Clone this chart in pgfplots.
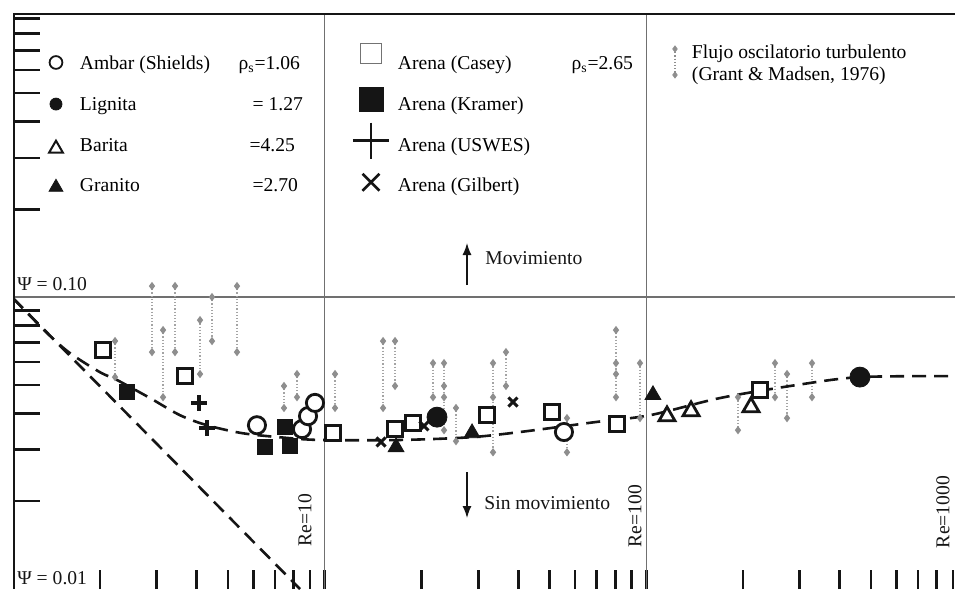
\documentclass[border=0pt]{standalone}
\usepackage{fontspec}
\setmainfont{Liberation Serif}
\usepackage{pgfplots}
\pgfplotsset{compat=1.18}
\usetikzlibrary{arrows.meta}
\definecolor{ink}{HTML}{151515}
\definecolor{rule}{HTML}{707070}
\definecolor{gm}{HTML}{8E8E8E}

% one legend symbol: vertical offset, then the mark options
\pgfplotsset{
  limg/.style 2 args={legend image code/.code={%
    \path[draw=none, fill=none] (0pt,-5pt) rectangle (20pt,5pt);
    \draw[overlay,#2] plot coordinates {(10pt,#1)};}},
}

\begin{document}
\begin{tikzpicture}[font=\fontsize{9.8}{11.8}\selectfont]
\begin{axis}[
  xmode=log, ymode=log,
  scale only axis, width=471pt, height=288pt,
  xmin=1.072, xmax=912.6, ymin=0.01, ymax=0.94,
  axis line style={draw=none},
  xtick={2,3,4,5,6,7,8,9,10,20,30,40,50,60,70,80,90,100,200,300,400,500,600,700,800,900},
  ytick={0.02,0.03,0.04,0.05,0.06,0.07,0.08,0.09,0.1,0.2,0.3,0.4,0.5,0.6,0.7,0.8,0.9},
  xticklabels={}, yticklabels={},
  xtick pos=left, ytick pos=left, tick align=inside,
  xminorticks=false, yminorticks=false,
  every major x tick/.append style={line width=1.4pt, ink, /pgfplots/major tick length=9.5pt},
  every major y tick/.append style={line width=1.3pt, ink, /pgfplots/major tick length=13.5pt},
  legend columns=3,
  legend cell align=left,
  legend style={draw=none, fill=none, inner sep=0pt, outer sep=0pt,
    at={(0.0244,0.9254)}, anchor=north west,
    row sep=10.3pt, column sep=0pt,
    font=\fontsize{9.8}{11.8}\selectfont,
    nodes={inner sep=0pt, outer sep=0pt, text height=7pt, text depth=3pt}},
]

% legend, row by row
\addlegendimage{limg={1.75pt}{mark=*, mark size=3.2pt, line width=0.9pt, mark options={fill=white, draw=ink}}}
\addlegendentry{\makebox[137.5pt][l]{\hspace*{2pt}\makebox[110pt][l]{Ambar (Shields)\hfill ρ\textsubscript{s}=1.06}}}
\addlegendimage{limg={6.25pt}{mark=square*, mark size=5.2pt, line width=0.5pt, mark options={fill=white, draw=black!55}}}
\addlegendentry{\makebox[137pt][l]{\hspace*{3.5pt}\makebox[117.5pt][l]{Arena (Casey)\hfill ρ\textsubscript{s}=2.65}}}
\addlegendimage{legend image code/.code={%
    \path[draw=none, fill=none] (0pt,-5pt) rectangle (10pt,5pt);
    \draw[overlay,gm,densely dotted,line width=0.6pt] (5pt,8.5pt) -- (5pt,-4.5pt);
    \draw[overlay] plot[only marks, mark=diamond*, mark size=1.5pt, mark options={fill=gm, draw=gm}] coordinates {(5pt,8.5pt) (5pt,-4.5pt)};}}
\addlegendentry{\hspace*{3.5pt}\smash{\begin{tabular}{@{}l@{}}Flujo oscilatorio turbulento\\[-0.5pt](Grant \& Madsen, 1976)\end{tabular}}}

\addlegendimage{limg={1.25pt}{mark=*, mark size=3pt, mark options={fill=ink, draw=ink}}}
\addlegendentry{\makebox[137.5pt][l]{\hspace*{2pt}\makebox[111.5pt][l]{Lignita\hfill = 1.27}}}
\addlegendimage{limg={3.75pt}{mark=square*, mark size=6pt, mark options={fill=ink, draw=ink}}}
\addlegendentry{\makebox[137pt][l]{\hspace*{3.5pt}Arena (Kramer)}}
\addlegendimage{empty legend}
\addlegendentry{}

\addlegendimage{limg={-0.75pt}{mark=triangle*, mark size=4pt, line width=1pt, mark options={fill=white, draw=ink}}}
\addlegendentry{\makebox[137.5pt][l]{\hspace*{2pt}\makebox[107.5pt][l]{Barita\hfill =4.25}}}
\addlegendimage{limg={3.25pt}{mark=+, mark size=9pt, line width=1.4pt, ink}}
\addlegendentry{\makebox[137pt][l]{\hspace*{3.5pt}Arena (USWES)}}
\addlegendimage{empty legend}
\addlegendentry{}

\addlegendimage{limg={0.25pt}{mark=triangle*, mark size=4pt, mark options={fill=ink, draw=ink}}}
\addlegendentry{\makebox[137.5pt][l]{\hspace*{2pt}\makebox[109pt][l]{Granito\hfill =2.70}}}
\addlegendimage{limg={2.75pt}{mark=x, mark size=6pt, line width=1.3pt, ink}}
\addlegendentry{\makebox[137pt][l]{\hspace*{3.5pt}Arena (Gilbert)}}
\addlegendimage{empty legend}
\addlegendentry{}

% reference lines
\draw[rule, line width=0.6pt] (axis cs:10,0.01) -- (axis cs:10,0.94);
\draw[rule, line width=0.6pt] (axis cs:100,0.01) -- (axis cs:100,0.94);
\draw[rule, line width=0.6pt] (axis cs:1.072,0.1) -- (axis cs:912.6,0.1);

% Grant & Madsen ranges
\addplot[forget plot, gm!80, densely dotted, line width=0.6pt, unbounded coords=jump,
  mark=diamond*, mark size=1.6pt, mark options={solid, fill=gm, draw=gm}] coordinates {
  (2.226,0.0707) (2.226,0.0532) (2.226,nan)
  (2.901,0.1091) (2.901,0.0648) (2.901,nan)
  (3.140,0.0771) (3.140,0.0454) (3.140,nan)
  (3.421,0.1091) (3.421,0.0648) (3.421,nan)
  (4.092,0.0834) (4.092,0.0545) (4.092,nan)
  (4.459,0.1000) (4.459,0.0707) (4.459,nan)
  (5.333,0.1091) (5.333,0.0648) (5.333,nan)
  (7.467,0.0496) (7.467,0.0417) (7.467,nan)
  (8.196,0.0545) (8.196,0.0454) (8.196,nan)
  (10.76,0.0545) (10.76,0.0417) (10.76,nan)
  (15.18,0.0707) (15.18,0.0417) (15.18,nan)
  (16.54,0.0707) (16.54,0.0496) (16.54,nan)
  (21.71,0.0594) (21.71,0.0454) (21.71,nan)
  (23.49,0.0594) (23.49,0.0496) (23.49,0.0454) (23.49,0.0350) (23.49,nan)
  (25.59,0.0417) (25.59,0.0321) (25.59,nan)
  (33.37,0.0594) (33.37,0.0454) (33.37,0.0294) (33.37,nan)
  (36.61,0.0648) (36.61,0.0496) (36.61,nan)
  (56.67,0.0385) (56.67,0.0294) (56.67,nan)
  (80.5,0.0771) (80.5,0.0594) (80.5,0.0545) (80.5,0.0454) (80.5,nan)
  (95.6,0.0594) (95.6,0.0385) (95.6,nan)
  (192.9,0.0454) (192.9,0.0350) (192.9,nan)
  (251.4,0.0594) (251.4,0.0454) (251.4,nan)
  (274.0,0.0545) (274.0,0.0385) (274.0,nan)
  (327.7,0.0594) (327.7,0.0454)
};

% threshold curves
\addplot[forget plot, ink, line width=1.3pt, dash pattern=on 7pt off 4pt] coordinates {
  (1.072,0.0992) (8.374,0.0100)
};
\addplot[forget plot, ink, line width=1.3pt, dash pattern=on 7pt off 4pt, smooth] coordinates {
  (1.072,0.0992) (1.368,0.0753) (1.612,0.0643) (1.999,0.0553) (2.258,0.0520)
  (2.860,0.0451) (3.545,0.0394) (4.301,0.0364) (5.527,0.0342) (7.255,0.0331)
  (9.663,0.0324) (17.14,0.0324) (28.30,0.0331) (40.48,0.0345) (69.26,0.0373)
  (102.7,0.0394) (169.6,0.0451) (294.2,0.0500) (461.9,0.0532) (912.6,0.0536)
};

% Arena (Casey)
\addplot[forget plot, only marks, mark=square*, mark size=3.6pt, line width=1.5pt,
  mark options={fill=white, draw=ink}] coordinates {
  (2.042,0.0658) (3.675,0.0536) (10.60,0.0342) (16.54,0.0353) (18.81,0.0370)
  (31.95,0.0394) (50.89,0.0404) (81.1,0.0367) (225.8,0.0480)
};
% Arena (Kramer)
\addplot[forget plot, only marks, mark=square*, mark size=3.8pt,
  mark options={fill=ink, draw=ink}] coordinates {
  (2.425,0.0473) (6.516,0.0306) (7.796,0.0309) (7.521,0.0359)
};
% Lignita
\addplot[forget plot, only marks, mark=*, mark size=5pt,
  mark options={fill=ink, draw=ink}] coordinates {
  (22.34,0.0388) (461.9,0.0532)
};
% Ambar (Shields)
\addplot[forget plot, only marks, mark=*, mark size=4.3pt, line width=1.4pt,
  mark options={fill=white, draw=ink}] coordinates {
  (6.153,0.0364) (8.495,0.0353) (8.868,0.0391) (9.322,0.0434) (55.46,0.0345)
};
% Granito
\addplot[forget plot, only marks, mark=triangle*, mark size=4.6pt,
  mark options={fill=ink, draw=ink}] coordinates {
  (16.66,0.0306) (28.71,0.0342) (104.9,0.0462)
};
% Barita
\addplot[forget plot, only marks, mark=triangle*, mark size=4.6pt, line width=1.4pt,
  mark options={fill=white, draw=ink}] coordinates {
  (116.0,0.0391) (137.8,0.0407) (211.7,0.0420)
};
% Arena (USWES)
\addplot[forget plot, only marks, mark=+, mark size=3.8pt, line width=1.6pt, ink] coordinates {
  (4.062,0.0434) (4.301,0.0356)
};
% Arena (Gilbert)
\addplot[forget plot, only marks, mark=x, mark size=3.2pt, line width=1.5pt, ink] coordinates {
  (14.96,0.0319) (20.35,0.0362) (38.49,0.0437)
};

% frame: left and top only
\draw[ink, line width=1.5pt] (rel axis cs:0,0) -- (rel axis cs:0,1) -- (rel axis cs:1,1);
\end{axis}

% annotations, in pixels of the reference from the top-left corner of the axis
\begin{scope}[shift={(current axis.north west)}, x=0.5pt, y=-0.5pt,
  every node/.style={inner sep=0pt, text=ink}]
  \node[anchor=west] at (4,271) {Ψ = 0.10};
  \node[anchor=west] at (4,565) {Ψ = 0.01};
  \node[rotate=90] at (292,507) {Re=10};
  \node[rotate=90] at (622,503) {Re=100};
  \node[rotate=90] at (930,499) {Re=1000};
  \draw[ink, line width=0.7pt, -{Latex[length=6pt,width=4.5pt]}] (454,272) -- (454,230);
  \node[anchor=west] at (472,245) {Movimiento};
  \draw[ink, line width=0.7pt, -{Latex[length=6pt,width=4.5pt]}] (454,459) -- (454,505);
  \node[anchor=west] at (471,490) {Sin movimiento};
\end{scope}

\pgfresetboundingbox
\path ([xshift=-6.5pt]current axis.south west) rectangle ([yshift=6.5pt]current axis.north east);
\end{tikzpicture}
\end{document}
